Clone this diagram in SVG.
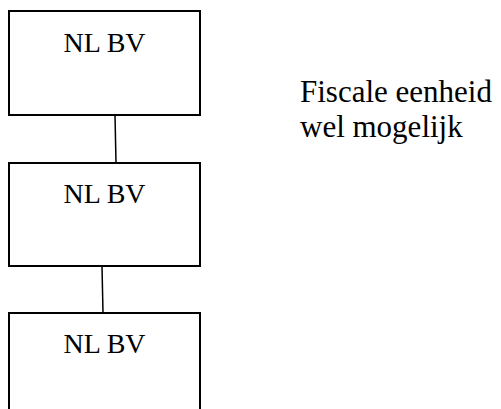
<svg xmlns="http://www.w3.org/2000/svg" width="501" height="409" viewBox="0 0 501 409">
  <style>
    .box { fill: #fff; stroke: #000; stroke-width: 2; }
    .link { stroke: #000; stroke-width: 1.5; fill: none; }
    .lbl { font-family: "Liberation Serif", "Times New Roman", serif; font-size: 28px; fill: #000; text-anchor: middle; }
    .note { font-family: "Liberation Serif", "Times New Roman", serif; font-size: 31px; fill: #000; }
  </style>
  <rect width="501" height="409" fill="#fff"/>
  <g id="connectors">
    <line class="link" x1="115" y1="115" x2="116" y2="163"/>
    <line class="link" x1="102" y1="266" x2="103" y2="313"/>
  </g>
  <g id="node1">
    <rect class="box" x="9" y="11" width="191" height="104"/>
    <text class="lbl" x="104.5" y="52">NL BV</text>
  </g>
  <g id="node2">
    <rect class="box" x="9" y="163" width="191" height="103"/>
    <text class="lbl" x="104.5" y="203">NL BV</text>
  </g>
  <g id="node3">
    <path class="box" d="M9,409 V313 H200 V409"/>
    <text class="lbl" x="104.5" y="353">NL BV</text>
  </g>
  <g id="note">
    <text class="note" x="300" y="102">Fiscale eenheid</text>
    <text class="note" x="300" y="137">wel mogelijk</text>
  </g>
</svg>
